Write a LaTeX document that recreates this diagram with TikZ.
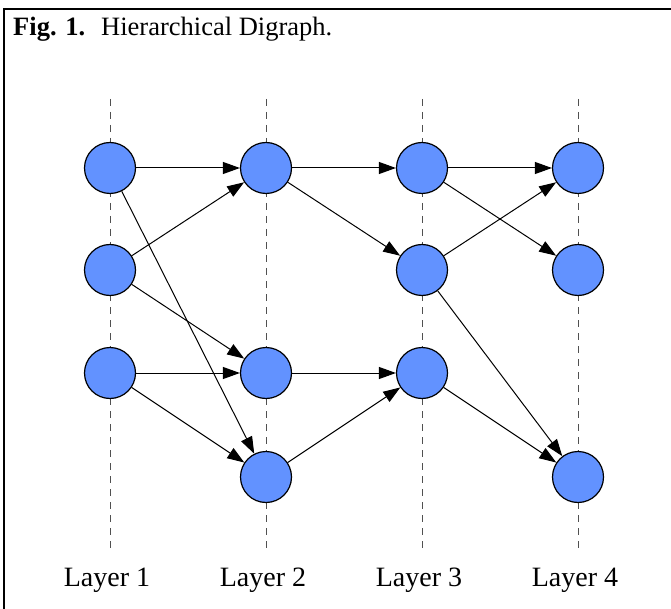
\documentclass[tikz,border=0pt]{standalone}
\usepackage{fontspec}
\setmainfont{Liberation Serif}
\usetikzlibrary{arrows.meta}
\definecolor{nodeblue}{RGB}{98,146,255}
\definecolor{guidegray}{RGB}{80,80,80}
\tikzset{
  vertex/.style={circle, draw=black, line width=1.2pt, fill=nodeblue, minimum size=51pt, inner sep=0pt},
  edge/.style={line width=1pt, -{Triangle[length=17pt,width=12pt]}},
  guide/.style={draw=guidegray, line width=1pt, dash pattern=on 7pt off 6pt},
  layerlabel/.style={font=\fontsize{28}{32}\selectfont, anchor=base},
  frameline/.style={line width=2pt}
}
\begin{document}
\begin{tikzpicture}[x=1pt, y=-1pt]
  \useasboundingbox (0,0) rectangle (671,609);
  % frame
  \coordinate (fbl) at (4,609);
  \coordinate (ftl) at (4,9);
  \coordinate (ftr) at (671,9);
  \draw[frameline] (fbl) -- (ftl) -- (ftr);
  % title
  \node[anchor=base west, inner sep=0pt, font=\fontsize{26.5}{30}\selectfont] (title) at (13,36)
    {\textbf{Fig. 1.}\hspace{0.6em}Hierarchical Digraph.};
  % layer guides
  \foreach \i/\x in {1/110, 2/266, 3/422, 4/578} {
    \coordinate (top\i) at (\x,99);
    \coordinate (bot\i) at (\x,548);
    \draw[guide] (top\i) -- (bot\i);
  }
  % layer 1
  \node[vertex] (a1) at (110,168) {};
  \node[vertex] (a2) at (110,270) {};
  \node[vertex] (a3) at (110,373) {};
  % layer 2
  \node[vertex] (b1) at (266,168) {};
  \node[vertex] (b2) at (266,373) {};
  \node[vertex] (b4) at (266,477) {};
  % layer 3
  \node[vertex] (c1) at (422,168) {};
  \node[vertex] (c2) at (422,270) {};
  \node[vertex] (c3) at (422,373) {};
  % layer 4
  \node[vertex] (d1) at (578,168) {};
  \node[vertex] (d2) at (578,270) {};
  \node[vertex] (d4) at (578,477) {};
  % edges
  \draw[edge] (a1) -- (b1);
  \draw[edge] (a1) -- (b4);
  \draw[edge] (a2) -- (b1);
  \draw[edge] (a2) -- (b2);
  \draw[edge] (a3) -- (b2);
  \draw[edge] (a3) -- (b4);
  \draw[edge] (b1) -- (c1);
  \draw[edge] (b1) -- (c2);
  \draw[edge] (b2) -- (c3);
  \draw[edge] (b4) -- (c3);
  \draw[edge] (c1) -- (d1);
  \draw[edge] (c1) -- (d2);
  \draw[edge] (c2) -- (d1);
  \draw[edge] (c2) -- (d4);
  \draw[edge] (c3) -- (d4);
  % labels
  \node[layerlabel] (l1) at (107,586) {Layer 1};
  \node[layerlabel] (l2) at (263,586) {Layer 2};
  \node[layerlabel] (l3) at (419,586) {Layer 3};
  \node[layerlabel] (l4) at (575,586) {Layer 4};
\end{tikzpicture}
\end{document}
